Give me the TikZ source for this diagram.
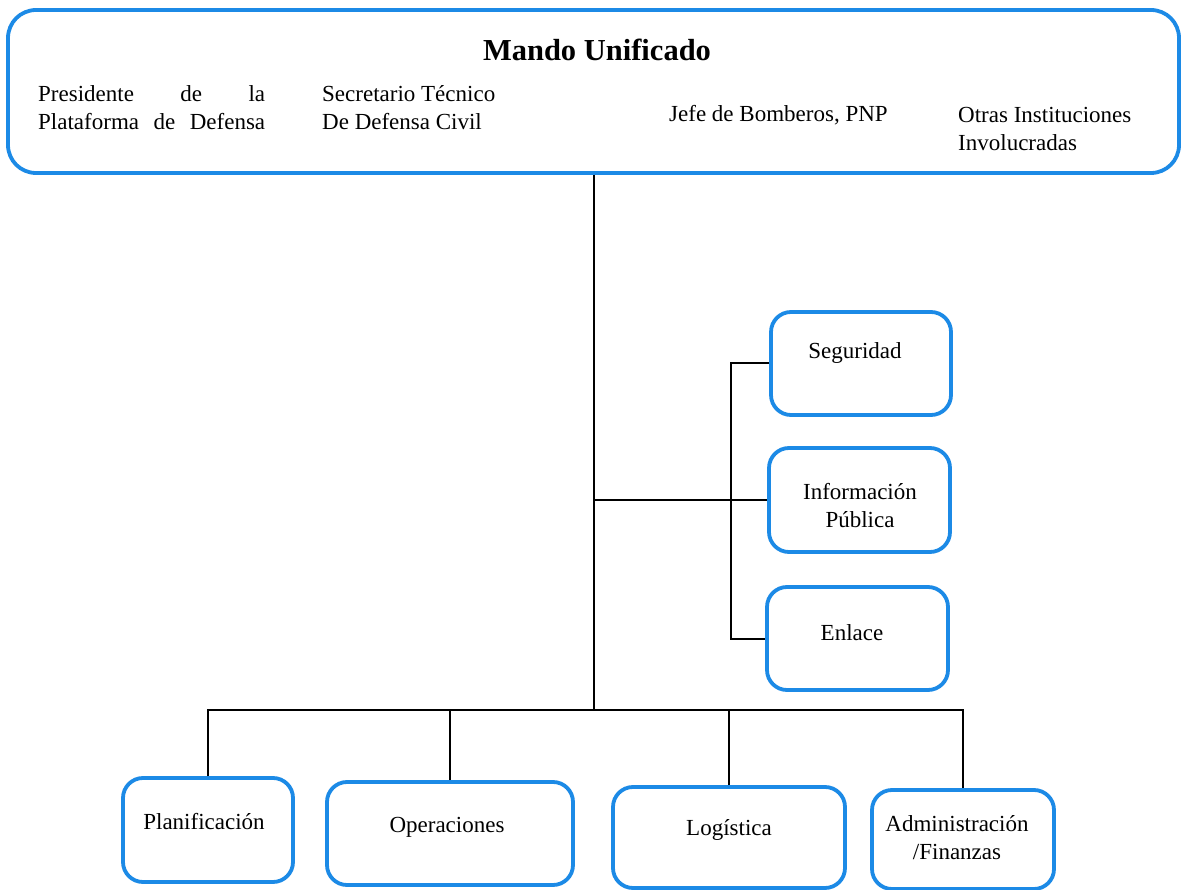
\documentclass[tikz,border=0pt]{standalone}
\usepackage{fontspec}
\setmainfont{Liberation Serif}
\definecolor{boxblue}{RGB}{28,138,230}
\begin{document}
\begin{tikzpicture}[x=1pt,y=-1pt,
  box/.style={draw=boxblue, line width=3.8pt, rounded corners=20pt, fill=white, inner sep=0pt},
  txt/.style={font=\fontsize{23}{28}\selectfont, inner sep=0pt, align=center},
  ltxt/.style={font=\fontsize{23}{28}\selectfont, inner sep=0pt, align=left, anchor=west},
  conn/.style={draw=black, line width=2pt}]
\useasboundingbox (0,0) rectangle (1183,890);
\fill[white] (0,0) rectangle (1183,890);

% boxes
\node[box, rounded corners=28pt, minimum width=1171, minimum height=163] (top) at (593.5,91.5) {};
\node[box, minimum width=180, minimum height=103] (seg) at (861,363.5) {};
\node[box, minimum width=181, minimum height=104] (info) at (859.5,500) {};
\node[box, minimum width=181, minimum height=103] (enl) at (857.5,638.5) {};
\node[box, minimum width=170, minimum height=104] (plan) at (208,830) {};
\node[box, minimum width=246, minimum height=103] (oper) at (450,833.5) {};
\node[box, minimum width=232, minimum height=101] (log) at (729,837.5) {};
\node[box, minimum width=182, minimum height=99] (adm) at (963,839.5) {};

% texts
\node[txt, font=\fontsize{30.5}{34}\selectfont\bfseries] (tmando) at (597,50) {Mando Unificado};
\node[ltxt] (tpres) at (38,107.5) {\hbox to 227pt{Presidente\hfill de\hfill la}\\\hbox to 227pt{Plataforma\hfill de\hfill Defensa}};
\node[ltxt] (tsec) at (322,107.5) {Secretario Técnico\\De Defensa Civil};
\node[ltxt] (tjefe) at (669,115) {Jefe de Bomberos, PNP};
\node[ltxt] (totras) at (958,129) {Otras Instituciones\\Involucradas};

\node[txt] (tseg) at (855,353) {Seguridad};
\node[txt] (tinfo) at (860,506) {Información\\Pública};
\node[txt] (tenl) at (852,633) {Enlace};
\node[txt] (tplan) at (204,822) {Planificación};
\node[txt] (toper) at (447,827) {Operaciones};
\node[txt] (tlog) at (729,830) {Logística};
\node[txt] (tadm) at (957,837.5) {Administración\\/Finanzas};

% connectors
\coordinate (bus) at (594,710);
\draw[conn] (top.south -| bus) -- (bus);
\draw[conn] (info.west -| bus) -- (info.west);
\draw[conn] (seg.west) -- ++(-38,0) |- (enl.west);
\draw[conn] (plan.north) -- (plan.north |- bus) -- (adm.north |- bus) -- (adm.north);
\draw[conn] (oper.north) -- (oper.north |- bus);
\draw[conn] (log.north) -- (log.north |- bus);
\end{tikzpicture}
\end{document}
